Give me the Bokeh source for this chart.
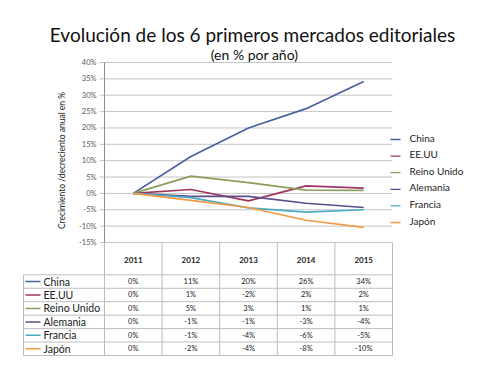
import math
from bokeh.plotting import figure
from bokeh.models import Range1d
from bokeh.core.properties import value
from bokeh.embed import file_html
from bokeh.resources import INLINE

# ---------------- data ----------------
years = ["2011", "2012", "2013", "2014", "2015"]
series_names = ["China", "EE.UU", "Reino Unido", "Alemania", "Francia", "Japón"]
china = [0, 11.3, 20.0, 25.9, 34.2]
eeuu = [0, 1.2, -2.3, 2.3, 1.6]
reino_unido = [0, 5.3, 3.3, 1.0, 0.9]
alemania = [0, -0.9, -0.9, -3.0, -4.3]
francia = [0, -1.3, -4.4, -5.7, -5.0]
japon = [0, -2.1, -4.3, -8.2, -10.4]
y_ticks = [-15, -10, -5, 0, 5, 10, 15, 20, 25, 30, 35, 40]
y_tick_labels = ["%d%%" % t for t in y_ticks]

series_values = [china, eeuu, reino_unido, alemania, francia, japon]
colors = ["#4A5F9E", "#A23660", "#8C9E5C", "#5E4C8C", "#4BACC6", "#F29A48"]

title = "Evolución de los 6 primeros mercados editoriales"
subtitle = "(en % por año)"
y_label = "Crecimiento /decreciento anual en %"

# ---------------- layout (pixels) ----------------
W, H = 470, 359
PL, PR, PT, PB = 104, 392, 62, 242          # plot area: x of -0.5 / 4.5, y of 40% / -15%
px_x = (PR - PL) / 5.0                      # pixels per category
px_y = (PB - PT) / 55.0                     # pixels per percent
cat_range = Range1d(-0.5 - PL / px_x, 4.5 + (W - PR) / px_x)
pct_range = Range1d(-15 - (H - PB) / px_y, 40 + PT / px_y)

FONT = value("Lato")

p = figure(width=W, height=H, x_range=Range1d(0, W), y_range=Range1d(H, 0),
           extra_x_ranges={"cat": cat_range}, extra_y_ranges={"pct": pct_range},
           output_backend="svg", toolbar_location=None, min_border=0,
           x_axis_location=None, y_axis_location=None, outline_line_color=None,
           background_fill_color="white", border_fill_color="white")
p.xgrid.visible = False
p.ygrid.visible = False

# titles
p.text(x=[252], y=[34], text=[title], text_font=FONT, text_font_size="19px",
       text_align="center", text_baseline="alphabetic", text_color="#111111")
p.text(x=[254], y=[54], text=[subtitle], text_font=FONT, text_font_size="14px",
       text_align="center", text_baseline="alphabetic", text_color="#111111")

# gridlines + tick marks
tick = 5 / px_x
p.segment(x0=[-0.5 - tick] * len(y_ticks), x1=[4.5] * len(y_ticks), y0=y_ticks, y1=y_ticks,
          line_color="#C4C4C4", line_width=1, x_range_name="cat", y_range_name="pct")
p.segment(x0=[-0.5], x1=[-0.5], y0=[-15], y1=[40], line_color="#8C8C8C", line_width=1,
          x_range_name="cat", y_range_name="pct")
p.text(x=[-0.5 - 8 / px_x] * len(y_ticks), y=y_ticks, text=y_tick_labels, text_font=FONT,
       text_font_size="7.5px", text_align="right", text_baseline="middle",
       text_color="#595959", x_range_name="cat", y_range_name="pct")
p.text(x=[61], y=[160], text=[y_label], angle=math.pi / 2, text_font=FONT,
       text_font_size="8.5px", text_align="center", text_baseline="middle",
       text_color="#222222")

# series lines
xs = list(range(len(years)))
for vals, c in zip(series_values, colors):
    p.line(x=xs, y=vals, line_color=c, line_width=1.7,
           x_range_name="cat", y_range_name="pct")

# legend (right)
leg_y = [137 + 16.6 * i for i in range(len(series_names))]
for yy, c in zip(leg_y, colors):
    p.segment(x0=[390], x1=[400], y0=[yy + 2], y1=[yy + 2], line_color=c, line_width=1.3)
p.text(x=[409] * len(series_names), y=leg_y, text=series_names, text_font=FONT,
       text_font_size="10px", text_align="left", text_baseline="middle", text_color="#222222")

# table
T_LEFT = 23
HEAD_BOT = 274.3
ROW_H = 13.45
n = len(series_names)
row_lines = [HEAD_BOT + ROW_H * i for i in range(n + 1)]
T_BOT = row_lines[-1]
grid_c = "#BDBDBD"
cols = [-0.5 + i for i in range(len(years) + 1)]
p.segment(x0=cols, x1=cols, y0=[PB] * len(cols), y1=[T_BOT] * len(cols),
          line_color=grid_c, line_width=1, x_range_name="cat")
p.segment(x0=[T_LEFT] * len(row_lines), x1=[PR] * len(row_lines),
          y0=row_lines, y1=row_lines, line_color=grid_c, line_width=1)
p.segment(x0=[T_LEFT], x1=[T_LEFT], y0=[HEAD_BOT], y1=[T_BOT], line_color=grid_c, line_width=1)

# headers
p.text(x=xs, y=[(PB + HEAD_BOT) / 2 + 1] * len(years), text=years, text_font=FONT,
       text_font_size="8px", text_font_style="bold", text_align="center",
       text_baseline="middle", text_color="#222222", x_range_name="cat")

# row labels with line samples
row_c = [HEAD_BOT + ROW_H * (i + 0.5) for i in range(n)]
for yy, c in zip(row_c, colors):
    p.segment(x0=[T_LEFT + 2], x1=[T_LEFT + 17], y0=[yy], y1=[yy], line_color=c, line_width=1.5)
p.text(x=[T_LEFT + 20] * n, y=row_c, text=series_names, text_font=FONT,
       text_font_size="10.5px", text_align="left", text_baseline="middle", text_color="#222222")

# values
for yy, vals in zip(row_c, series_values):
    labels = ["%d%%" % round(v) for v in vals]
    p.text(x=xs, y=[yy] * len(xs), text=labels, text_font=FONT, text_font_size="7.5px",
           text_align="center", text_baseline="middle", text_color="#222222",
           x_range_name="cat")

open("out.html", "w").write(file_html(p, INLINE))
